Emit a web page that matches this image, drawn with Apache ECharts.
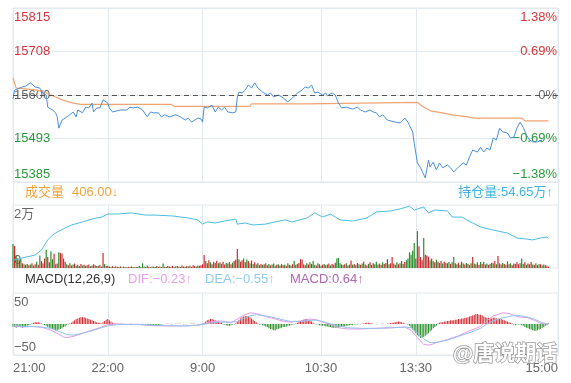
<!DOCTYPE html>
<html><head><meta charset="utf-8">
<script src="https://cdn.jsdelivr.net/npm/echarts@6/dist/echarts.min.js"></script>
<style>html,body{margin:0;padding:0;background:#fff}#c{width:571px;height:383px}</style>
</head><body><div id="c"></div>
<script>
// ---- axis / session definitions ----
const sessions = [['21:00',120],['9:00',75],['10:30',60],['13:30',90]];
const closeLabel = '15:00';
const shownTimes = ['21:00','22:00','9:00','10:30','13:30','15:00'];
const gridTimes = ['22:00','9:00','10:30','13:30'];
const basePrice = 15600;
const priceMin = 15385, priceMax = 15815;
const volMax = 20000;
const oiMin = 53, oiMax = 56.5;
const macdMin = -50, macdMax = 50;

// ---- legend texts ----
const volLegend = ['成交量', '406.00↓'];
const oiLegend = '持仓量:54.65万↑';
const macdLegend = ['MACD(12,26,9)', 'DIF:−0.23↑', 'DEA:−0.55↑', 'MACD:0.64↑'];

// ---- price (minute index, price) ----
const pricePts = [[0,15590],[1,15612],[4,15617],[6,15620],[8,15622],[11,15630],[14,15620],[17,15617],[19,15605],[21,15600],[22,15570],[25,15563],[27,15556],[28,15546],[29,15518],[31,15538],[33,15543],[36,15551],[38,15558],[40,15546],[41,15563],[44,15556],[46,15570],[48,15568],[50,15580],[51,15558],[53,15568],[55,15568],[57,15588],[60,15580],[61,15568],[63,15558],[68,15563],[72,15563],[74,15570],[76,15568],[79,15570],[82,15563],[85,15546],[87,15558],[89,15556],[92,15556],[94,15546],[96,15551],[99,15546],[103,15551],[106,15546],[109,15538],[111,15543],[113,15533],[117,15543],[119,15541],
[120,15533],[121,15570],[123,15568],[126,15575],[128,15558],[130,15570],[132,15563],[134,15570],[136,15558],[139,15556],[141,15558],[142,15595],[143,15607],[145,15605],[147,15612],[149,15625],[151,15617],[153,15630],[155,15617],[156,15620],[158,15607],[161,15600],[163,15605],[165,15595],[168,15600],[171,15593],[174,15583],[177,15593],[180,15605],[183,15612],[185,15620],[187,15617],[189,15625],[191,15605],[193,15607],[196,15600],[198,15605],[199,15598],[202,15605],[204,15600],[206,15580],[208,15568],[211,15570],[215,15565],[218,15570],[220,15563],[223,15558],[226,15563],[228,15558],[230,15556],[232,15546],[234,15551],[237,15538],[242,15533],[245,15531],[248,15543],[250,15533],[253,15509],[254,15481],[256,15432],[258,15420],[259,15422],[261,15395],[263,15439],[264,15422],[266,15434],[268,15415],[270,15432],[272,15420],[275,15427],[277,15420],[279,15410],[282,15422],[285,15432],[287,15427],[289,15447],[291,15464],[294,15459],[296,15471],[298,15459],[300,15469],[302,15464],[304,15494],[306,15489],[308,15518],[310,15509],[313,15506],[315,15494],[317,15496],[319,15518],[321,15533],[323,15520],[325,15501],[327,15489],[329,15484],[332,15484],[335,15489]];

// ---- average price ----
const avgPts = [[0,15642],[2,15617],[8,15615],[19,15610],[22,15603],[27,15595],[31,15588],[38,15580],[43,15577],[100,15577],[102,15572],[150,15572],[151,15578],[186,15578],[187,15582],[256,15582],[259,15572],[265,15560],[272,15556],[278,15551],[288,15546],[292,15543],[322,15543],[324,15536],[339,15536]];

// ---- volume per minute ----
const volumes = [
7600,7000,4000,3000,2500,2800,1500,1200,1000,1300,
900,1100,1500,800,1200,2000,1000,4000,2200,1500,
3000,5800,3500,1800,5300,2800,4500,1200,1400,5000,
4800,4600,3000,2000,1200,900,1500,800,1100,1400,
700,1000,600,1300,800,1000,700,900,1100,600,
800,1200,900,600,700,1000,500,4800,1300,600,
700,500,400,600,300,500,400,300,500,200,
400,300,200,400,300,500,300,200,400,300,
600,400,1500,500,300,700,400,300,500,400,
300,600,400,500,300,1400,400,300,600,500,
400,700,300,500,600,400,300,800,500,400,
600,500,700,400,900,600,500,800,700,900,
1200,4100,2200,1500,2500,1800,1200,2000,1600,2300,
1500,1800,1300,2000,1100,1600,1400,1900,1200,1700,
2200,2600,6000,2800,2000,2500,3000,1800,2700,2200,
1500,2400,1300,1800,1100,1500,900,1300,1000,1200,
1500,900,1300,800,1100,1400,700,1000,1200,800,
1300,900,1100,700,1500,1000,800,1200,2200,1000,
1300,1600,2800,2600,1200,900,1500,1100,1800,1300,
2200,1000,800,1500,1200,700,1000,1300,900,1100,
1400,800,1300,1000,1700,3000,3200,1500,1100,900,
1200,1500,800,1100,2400,1000,1300,900,1600,1200,
1000,1400,2000,1100,800,1300,1800,1000,1500,1200,
2000,1100,1400,1000,1800,1300,1600,2800,1200,1500,
3500,1400,1000,1800,1200,1500,2200,1300,1900,2500,
3000,5000,4200,5500,7900,3000,11700,6900,3500,2500,
9500,4200,4000,3600,2500,3000,2200,1800,2600,2000,
1600,2200,1400,2000,1700,1500,1900,1300,1800,3500,
1500,1200,1700,1000,2000,1400,1100,1600,1300,1000,
1500,3500,1400,1200,1800,1000,1900,1300,2000,1100,
1400,1000,1300,1700,1500,2200,1200,3800,1500,1100,
1600,1300,1000,2100,1200,1500,900,1400,1300,1800,
1200,1500,3000,1300,1800,1000,1400,1200,1900,1100,
1000,1500,900,1300,1200,800,1100,900,700,406];
// r = up (red), g = down (green)
const volDir = 'grgrrgrgrg'+'rgrgrgrgrr'+'rgrrggrgrg'+'rrrrgrgrgr'+'grgrgrrgrg'+'rgrgrgrrgr'+'grgrgrrgrg'+'rgrrgrgrgr'+'ggggrgrgrg'+'rgrgrgrgrg'+
'rrgrgrgrrg'+'rgrgrrgrgr'+'rrgrrgrgrr'+'grgrrgrgrg'+'rrrgrrgrgr'+'grgrgrgrgr'+'grgrgggrgr'+'grgrgrgrgr'+'grrrgrgrgr'+'ggrgrgrgrg'+
'rgrgrgggrg'+'rgrgrgrgrg'+'rgrgrgrgrg'+'grgrgrgrgr'+'rgrgrgrgrg'+'gggggrgrrr'+'grrrgrgrgr'+'grgrgrgrgg'+'rgrgrgrgrg'+'grgrgrgrgr'+
'grgrgrgrgr'+'grggrgrrgr'+'rgggrgrgrg'+'rgrgrgrgrr';

// ---- open interest (万) ----
const oiPts = [[0,53.44],[6,53.56],[14,53.72],[18,54.0],[22,54.56],[25,54.83],[28,55.0],[33,55.22],[37,55.39],[44,55.56],[50,55.72],[56,55.83],[60,56.0],[66,56.0],[75,56.06],[84,55.94],[90,55.94],[101,55.89],[111,55.78],[117,55.67],[120,55.44],[123,55.56],[128,55.5],[134,55.61],[141,55.72],[142,55.44],[147,55.5],[152,55.39],[160,55.44],[166,55.56],[172,55.67],[177,55.56],[186,55.78],[191,56.06],[196,55.83],[201,56.0],[207,55.67],[215,55.61],[224,55.78],[230,56.11],[239,56.17],[245,56.28],[251,56.44],[254,56.22],[260,56.39],[263,56.06],[267,56.22],[275,56.17],[278,55.83],[284,55.83],[291,55.5],[296,55.28],[304,55.11],[313,54.94],[319,54.67],[325,54.61],[329,54.56],[334,54.67],[338,54.72],[339,54.65]];

// ---- MACD ----
const macdHist = [
-4,-5,-6,-5,-4,-5,-6,-5,-4,-3,-2,-1,
1,2,3,3,3,2,1,
-1,-2,-3,-5,-6,-7,-8,-9,-10,-10,-9,-8,-7,-5,-4,-2,-1,
1,2,4,6,8,9,10,11,11,11,10,9,8,7,6,5,4,3,2,2,1,
3,5,7,8,6,4,2,
1,0.5,0.5,0.5,0.3,0.3,0,-0.3,-0.3,0,0.3,0.3,0,-0.3,0,0.3,0,-0.3,-0.5,-1,
-1,-1.5,-2,-2.5,-3,-3,-3,-2.5,-2,-1.5,-1,
-0.5,0,0.5,0.3,0,-0.3,-0.3,0,0.3,0.5,0.5,0.3,0,-0.3,-0.5,-0.3,0,0.3,0.5,1,0.5,0,-0.5,-0.5,0,0.5,
2,4,6,7,8,8,7,6,5,4,3,2,
-1,-1,-2,-3,-3,-2,-1,-1,1,
4,7,9,11,12,13,13,12,11,9,7,5,3,1,
-1,-1,-2,-3,
-4,-5,-7,-8,-9,-10,-10,-9,-8,-7,-6,-5,-5,-4,-3,-3,-2,-1,-1,
1,2,4,5,6,7,8,8,7,6,4,2,1,
-1,-1,-2,-2,-3,-3,-4,-4,-5,-5,-6,-6,-6,-6,-6,-5,-5,-4,-4,-3,-3,-2,-2,-2,-1,-1,-1,-0.5,-0.5,
0.5,1,1.5,2,2,1.5,1,0.5,0,-0.5,-0.5,0,0.3,0.3,0,-0.3,0.5,1,1.5,2,2.5,3,3.5,4,3.5,3,2,1,0,-1,
-3,-6,-9,-12,-15,-18,-20,-22,-22,-21,-19,-17,-15,-12,-10,-7,-5,-3,
1,2,3,3,4,4,5,5,6,6,6,7,7,8,8,9,9,10,10,11,12,13,14,15,16,16,15,15,14,12,11,10,10,9,9,10,10,9,9,8,8,7,6,5,4,3,2,1,-1,-2,-1,-1,
-1,-2,-3,-5,-6,-7,-8,-9,-10,-11,-11,-10,-9,-8,-6,-5,-3,-2,0.64];
const difPts = [[0,-3],[6,-5],[12,-4],[18,-5],[24,-10],[30,-18],[32,-21],[34,-22],[38,-20],[44,-15],[50,-10],[56,-5],[60,-1],[66,0],[80,-1],[90,-3],[100,-3],[110,-3],[117,-2],[120,0],[124,3],[130,5],[134,4],[138,2],[142,8],[146,14],[150,18],[154,17],[160,12],[166,8],[172,4],[176,3],[182,5],[188,8],[192,7],[196,3],[200,0],[206,-6],[212,-8],[220,-8],[230,-7],[240,-6],[248,-5],[252,-10],[256,-22],[260,-33],[264,-34],[268,-30],[275,-25],[282,-19],[290,-10],[296,-4],[300,5],[304,13],[310,18],[314,17],[318,13],[322,11],[326,10],[330,6],[334,1],[339,-0.23]];
const deaPts = [[0,-2],[6,-4],[12,-4],[18,-5],[24,-7],[30,-13],[34,-17],[38,-18],[44,-15],[50,-11],[56,-6],[60,-3],[66,-1],[80,-1],[90,-2],[100,-3],[110,-3],[120,-1],[124,1],[130,3],[138,3],[142,4],[146,9],[150,13],[154,15],[160,13],[166,10],[172,6],[176,4],[182,4],[188,6],[192,6],[196,4],[200,1],[206,-3],[212,-6],[220,-7],[230,-7],[240,-6],[248,-5],[252,-6],[256,-14],[260,-24],[264,-30],[268,-30],[275,-26],[282,-20],[290,-13],[296,-7],[300,0],[304,5],[310,10],[314,12],[318,14],[322,13],[326,11],[330,8],[334,3],[339,-0.55]];

// ---- build category axis labels from the sessions ----
const times = [];
sessions.forEach(([start, len]) => {
  const [h, m] = start.split(':').map(Number);
  for (let k = 0; k < len; k++) {
    const t = h * 60 + m + k;
    times.push(Math.floor(t / 60) % 24 + ':' + String(t % 60).padStart(2, '0'));
  }
});
times.push(closeLabel);

const RED = '#d9363b', GREEN = '#2b9a3a', GRAY = '#666', LINE = '#e2e9ef';
const FONT = "'Liberation Sans','Noto Sans CJK SC',sans-serif";
const L = 13, R = 13;

function xAx(gi, showLabel) {
  return {
    type: 'category', gridIndex: gi, data: times, boundaryGap: false,
    axisLine: { show: false }, axisTick: { show: false },
    axisLabel: { show: showLabel, interval: (i, v) => shownTimes.includes(v), color: GRAY, fontSize: 13,
      fontFamily: FONT, margin: 7, alignMinLabel: 'left', alignMaxLabel: 'right' },
    splitLine: { show: true, interval: (i, v) => gridTimes.includes(v), lineStyle: { color: LINE, width: 1 } }
  };
}
function edgeRich(color, fs) {
  return {
    T: { color, fontSize: fs, fontFamily: FONT, padding: [18, 0, 0, 0] },
    B: { color, fontSize: fs, fontFamily: FONT, padding: [0, 0, 15, 0] },
    M: { color, fontSize: fs, fontFamily: FONT }
  };
}
const priceRich = {};
[['u', RED], ['d', GREEN], ['z', GRAY]].forEach(([k, c]) => {
  const r = edgeRich(c, 13);
  priceRich[k + 'T'] = r.T; priceRich[k + 'B'] = r.B; priceRich[k + 'M'] = r.M;
});
function priceKey(v) {
  const k = v > basePrice + 1 ? 'u' : (v < basePrice - 1 ? 'd' : 'z');
  const p = Math.abs(v - priceMax) < 1 ? 'T' : (Math.abs(v - priceMin) < 1 ? 'B' : 'M');
  return k + p;
}
const fmtPct = v => {
  const p = (v - basePrice) / basePrice * 100;
  if (Math.abs(p) < 0.001) return '0%';
  return (p < 0 ? '−' : '') + Math.abs(p).toFixed(2) + '%';
};

const chart = echarts.init(document.getElementById('c'), null, { renderer: 'canvas' });
chart.setOption({
  animation: false,
  backgroundColor: '#fff',
  grid: [
    { left: L, right: R, top: 8, height: 174, show: true, borderColor: LINE, borderWidth: 1 },
    { left: L, right: R, top: 205, height: 63, show: true, borderColor: LINE, borderWidth: 1 },
    { left: L, right: R, top: 293, height: 62, show: true, borderColor: LINE, borderWidth: 1 }
  ],
  xAxis: [xAx(0, false), xAx(1, false), xAx(2, true)],
  yAxis: [
    { type: 'value', gridIndex: 0, min: priceMin, max: priceMax, interval: (priceMax - priceMin) / 4, position: 'left',
      axisLine: { show: false }, axisTick: { show: false }, splitLine: { lineStyle: { color: LINE } },
      axisLabel: { inside: true, margin: 1, formatter: v => '{' + priceKey(v) + '|' + Math.round(v) + '}', rich: priceRich } },
    { type: 'value', gridIndex: 0, min: priceMin, max: priceMax, interval: (priceMax - priceMin) / 4, position: 'right',
      axisLine: { show: false }, axisTick: { show: false }, splitLine: { show: false },
      axisLabel: { inside: true, margin: 1, formatter: v => '{' + priceKey(v) + '|' + fmtPct(v) + '}', rich: priceRich } },
    { type: 'value', gridIndex: 1, min: 0, max: volMax, interval: volMax, position: 'left',
      axisLine: { show: false }, axisTick: { show: false }, splitLine: { show: false },
      axisLabel: { inside: true, margin: 1, formatter: v => v === 0 ? '{B|0}' : '{T|' + (v / 10000) + '万}', rich: edgeRich(GRAY, 13) } },
    { type: 'value', gridIndex: 1, min: oiMin, max: oiMax, show: false, splitLine: { show: false } },
    { type: 'value', gridIndex: 2, min: macdMin, max: macdMax, interval: macdMax - macdMin, position: 'left',
      axisLine: { show: false }, axisTick: { show: false }, splitLine: { show: false },
      axisLabel: { inside: true, margin: 1, formatter: v => v > 0 ? '{T|' + v + '}' : '{B|−' + Math.abs(v) + '}', rich: edgeRich(GRAY, 13) } }
  ],
  series: [
    { type: 'line', xAxisIndex: 0, yAxisIndex: 0, data: avgPts, showSymbol: false, z: 3,
      lineStyle: { color: '#f0a474', width: 1.2 } },
    { type: 'line', xAxisIndex: 0, yAxisIndex: 0, data: pricePts, showSymbol: false, z: 4,
      lineStyle: { color: '#4a8fe0', width: 1 },
      markLine: { silent: true, symbol: 'none', label: { show: false },
        lineStyle: { color: '#555', type: [5, 4], width: 1 }, data: [{ yAxis: basePrice }] } },
    { type: 'bar', xAxisIndex: 1, yAxisIndex: 2, barWidth: 1.2, z: 2,
      data: volumes.map((v, i) => ({ value: v, itemStyle: { color: volDir[i] === 'r' ? '#cf2a30' : '#2e8c2e' } })) },
    { type: 'line', xAxisIndex: 1, yAxisIndex: 3, data: oiPts, showSymbol: false, z: 4,
      lineStyle: { color: '#4dbde3', width: 1 } },
    { type: 'bar', xAxisIndex: 2, yAxisIndex: 4, barWidth: 1, z: 2,
      data: macdHist.map(v => ({ value: v, itemStyle: { color: v >= 0 ? '#d42a30' : '#2a8f2a' } })) },
    { type: 'line', xAxisIndex: 2, yAxisIndex: 4, data: difPts, showSymbol: false, z: 4,
      lineStyle: { color: '#e49be6', width: 1 } },
    { type: 'line', xAxisIndex: 2, yAxisIndex: 4, data: deaPts, showSymbol: false, z: 4,
      lineStyle: { color: '#95c3ee', width: 1 } }
  ],
  graphic: [
    { type: 'rect', silent: true, z: 1, shape: { x: 13.5, y: 8.5, width: 545, height: 347 },
      style: { fill: 'none', stroke: LINE, lineWidth: 1 } },
    { type: 'text', left: 25, top: 186, style: { text: volLegend[0], fill: '#f0a23a', font: '13px ' + FONT } },
    { type: 'text', left: 72, top: 186, style: { text: volLegend[1], fill: '#f0a23a', font: '13px ' + FONT } },
    { type: 'text', right: 18, top: 186, style: { text: oiLegend, fill: '#3eb4e0', font: '13px ' + FONT } },
    { type: 'text', left: 25, top: 273, style: { text: macdLegend[0], fill: '#333', font: '13px ' + FONT } },
    { type: 'text', left: 128, top: 273, style: { text: macdLegend[1], fill: '#e79fe8', font: '13px ' + FONT } },
    { type: 'text', left: 205, top: 273, style: { text: macdLegend[2], fill: '#8fcbed', font: '13px ' + FONT } },
    { type: 'text', left: 290, top: 273, style: { text: macdLegend[3], fill: '#b066b2', font: '13px ' + FONT } },
    { type: 'text', left: 452, top: 343, z: 100, style: { text: '@唐说期话', fill: '#fff', stroke: '#9a9a9a', lineWidth: 1.5,
      font: 'bold 21px ' + FONT } }
  ]
});
</script></body></html>
